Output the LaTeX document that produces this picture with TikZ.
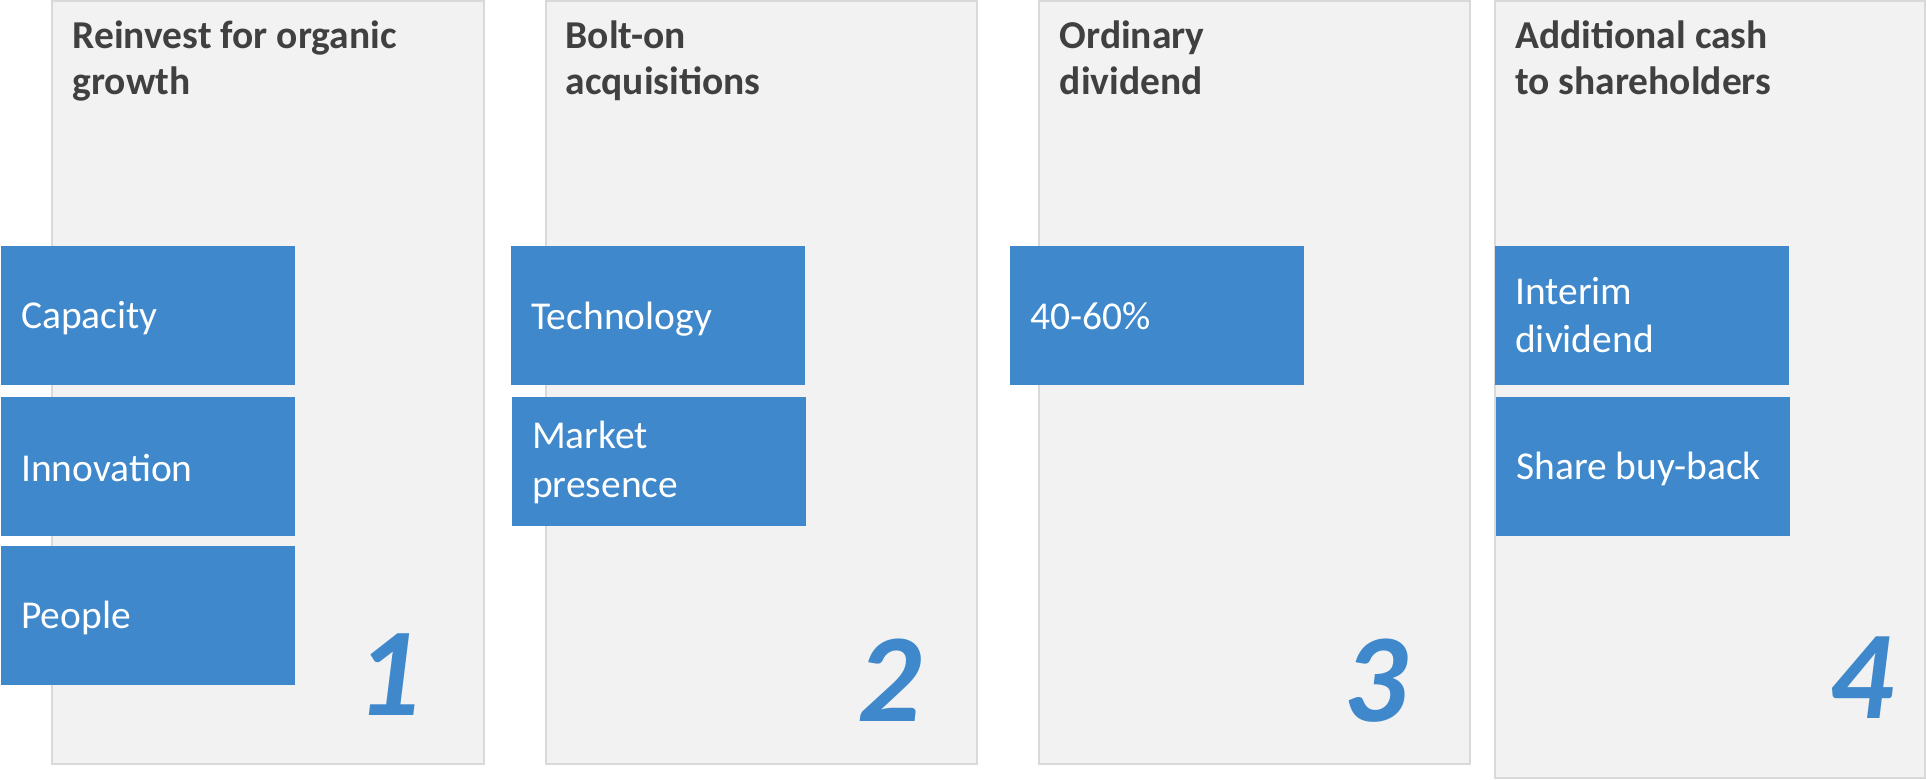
\documentclass[tikz,border=0pt]{standalone}
\usepackage{fontspec}
\setmainfont{Carlito}
\definecolor{panelfill}{HTML}{F2F2F2}
\definecolor{paneldraw}{HTML}{D9D9D9}
\definecolor{boxblue}{HTML}{3E88CB}
\definecolor{titlegray}{HTML}{404040}
\begin{document}
\begin{tikzpicture}[x=1pt,y=-1pt,
  panel/.style={fill=panelfill,draw=paneldraw,line width=2pt},
  bluebox/.style={fill=boxblue,draw=none},
  title/.style={anchor=base west,inner sep=0pt,align=left,text=titlegray,
    font=\bfseries\fontsize{39.5}{46}\selectfont},
  boxtext/.style={anchor=base west,inner sep=0pt,align=left,text=white,
    font=\fontsize{39.5}{48.5}\selectfont},
  digit/.style={anchor=base west,inner sep=0pt,text=boxblue,
    font=\bfseries\itshape\fontsize{126}{126}\selectfont}]
\useasboundingbox (0,0) rectangle (1926,779);
% panels
\draw[panel] (51.7,1) rectangle (484,764);
\draw[panel] (545.6,1) rectangle (976.8,764);
\draw[panel] (1038.7,1) rectangle (1470.4,764);
\draw[panel] (1495,1) rectangle (1925,778);
% titles (anchor at the baseline of the last line)
\node[title] (t1) at (72.5,94) {Reinvest for organic\\growth};
\node[title] (t2) at (565.4,94) {Bolt-on\\acquisitions};
\node[title] (t3) at (1059.6,94) {Ordinary\\dividend};
\node[title] (t4) at (1515,94) {Additional cash\\to shareholders};
% blue boxes
\fill[bluebox] (1,246) rectangle (295,385);
\fill[bluebox] (1,397) rectangle (295,535.5);
\fill[bluebox] (1,546) rectangle (295,684.5);
\fill[bluebox] (511,246) rectangle (805,385);
\fill[bluebox] (512,397) rectangle (806,525.6);
\fill[bluebox] (1010,246) rectangle (1304,385);
\fill[bluebox] (1495,246) rectangle (1789,385);
\fill[bluebox] (1496,397) rectangle (1790,535.5);
% box texts
\node[boxtext] (capacity) at (21,328.5) {Capacity};
\node[boxtext] (innovation) at (21,481) {Innovation};
\node[boxtext] (people) at (21,628) {People};
\node[boxtext] (technology) at (531,329) {Technology};
\node[boxtext] (market) at (532,497) {Market\\presence};
\node[boxtext] (pct) at (1030,329) {40-60\%};
\node[boxtext] (interim) at (1515,352.7) {Interim\\dividend};
\node[boxtext] (buyback) at (1516,479.4) {Share buy-back};
% digits
\node[digit] (n1) at (356,715) {1};
\node[digit] (n2) at (857,721) {2};
\node[digit] (n3) at (1343,721) {3};
\node[digit] (n4) at (1829,718) {4};
\end{tikzpicture}
\end{document}
